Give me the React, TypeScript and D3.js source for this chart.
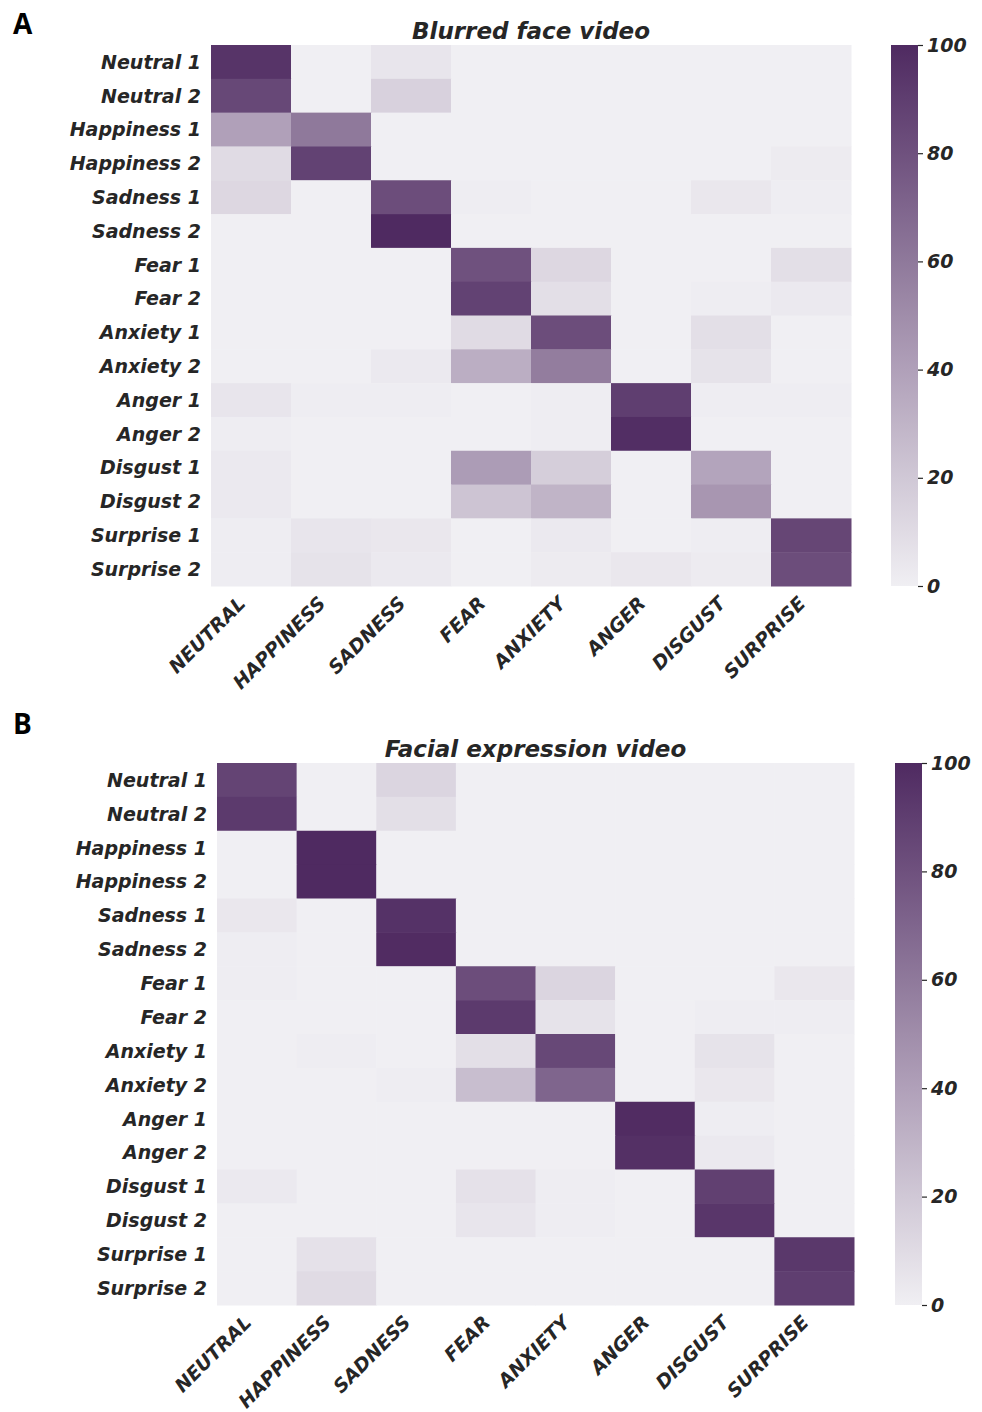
import React, { useEffect, useRef } from "react";
import * as d3 from "d3";

// categories
const rowLabels = [
  "Neutral 1", "Neutral 2", "Happiness 1", "Happiness 2", "Sadness 1", "Sadness 2",
  "Fear 1", "Fear 2", "Anxiety 1", "Anxiety 2", "Anger 1", "Anger 2",
  "Disgust 1", "Disgust 2", "Surprise 1", "Surprise 2",
];
const colLabels = ["NEUTRAL", "HAPPINESS", "SADNESS", "FEAR", "ANXIETY", "ANGER", "DISGUST", "SURPRISE"];
const colorTicks = [0, 20, 40, 60, 80, 100];

// panel A values (% of responses), rows x cols
const blurredValues = [
  [95, 0, 5, 0, 0, 0, 0, 0],
  [85, 0, 15, 0, 0, 0, 0, 0],
  [40, 60, 0, 0, 0, 0, 0, 0],
  [10, 88, 0, 0, 0, 0, 0, 2],
  [12, 0, 82, 1, 0, 0, 4, 1],
  [0, 0, 100, 0, 0, 0, 0, 0],
  [0, 0, 0, 80, 12, 0, 0, 8],
  [0, 0, 0, 88, 8, 0, 1, 3],
  [0, 0, 0, 10, 82, 0, 8, 0],
  [0, 0, 3, 33, 58, 0, 6, 0],
  [5, 1, 1, 0, 1, 90, 1, 1],
  [1, 0, 0, 0, 1, 98, 0, 0],
  [3, 0, 0, 42, 17, 0, 38, 0],
  [3, 0, 0, 22, 30, 0, 45, 0],
  [1, 5, 4, 0, 3, 0, 1, 86],
  [1, 6, 3, 0, 2, 4, 2, 82],
];

// panel B values
const expressionValues = [
  [87, 0, 13, 0, 0, 0, 0, 0],
  [92, 0, 8, 0, 0, 0, 0, 0],
  [0, 100, 0, 0, 0, 0, 0, 0],
  [0, 100, 0, 0, 0, 0, 0, 0],
  [4, 0, 96, 0, 0, 0, 0, 0],
  [1, 0, 99, 0, 0, 0, 0, 0],
  [1, 0, 0, 82, 13, 0, 0, 4],
  [0, 0, 0, 92, 6, 0, 1, 1],
  [0, 1, 0, 8, 85, 0, 6, 0],
  [0, 0, 1, 25, 70, 0, 4, 0],
  [0, 0, 0, 0, 0, 99, 1, 0],
  [0, 0, 0, 0, 0, 97, 3, 0],
  [3, 0, 0, 7, 1, 0, 89, 0],
  [0, 0, 0, 5, 1, 0, 94, 0],
  [0, 7, 0, 0, 0, 0, 0, 93],
  [0, 10, 0, 0, 0, 0, 0, 90],
];

const panels = [
  { letter: "A", letterY: 34, title: "Blurred face video", values: blurredValues, x0: 211, x1: 851, y0: 45, y1: 586, cbX: 891 },
  { letter: "B", letterY: 734, title: "Facial expression video", values: expressionValues, x0: 217, x1: 854, y0: 763, y1: 1305, cbX: 895 },
];

const FONT = "'DejaVu Sans', sans-serif";
const TXT = "#262626";

export default function App() {
  const ref = useRef<SVGSVGElement>(null);

  useEffect(() => {
    const svg = d3.select(ref.current);
    svg.selectAll("*").remove();

    const color = d3.scaleLinear<string>()
      .domain([0, 100])
      .range(["#f0eff3", "#4f2a61"])
      .interpolate(d3.interpolateRgb);

    const defs = svg.append("defs");
    const grad = defs.append("linearGradient")
      .attr("id", "cbgrad")
      .attr("x1", 0).attr("x2", 0).attr("y1", 1).attr("y2", 0);
    d3.range(0, 101, 10).forEach((v) => {
      grad.append("stop").attr("offset", `${v}%`).attr("stop-color", color(v));
    });

    panels.forEach((p) => {
      const g = svg.append("g");

      const x = d3.scaleBand().domain(colLabels).range([p.x0, p.x1]);
      const y = d3.scaleBand().domain(rowLabels).range([p.y0, p.y1]);

      // panel letter
      g.append("text")
        .attr("x", 13)
        .attr("y", p.letterY)
        .style("font-family", "'Open Sans', sans-serif")
        .style("font-weight", "bold")
        .style("font-size", "28px")
        .style("fill", "#000")
        .text(p.letter);

      // title
      g.append("text")
        .attr("x", (p.x0 + p.x1) / 2)
        .attr("y", p.y0 - 6)
        .attr("text-anchor", "middle")
        .style("font-family", FONT)
        .style("font-weight", "bold")
        .style("font-style", "italic")
        .style("font-size", "23px")
        .style("fill", TXT)
        .text(p.title);

      // cells
      const cells = p.values.flatMap((row, i) =>
        row.map((v, j) => ({ r: rowLabels[i], c: colLabels[j], v }))
      );
      g.selectAll("rect.cell")
        .data(cells)
        .join("rect")
        .attr("class", "cell")
        .attr("x", (d) => x(d.c)!)
        .attr("y", (d) => y(d.r)!)
        .attr("width", x.bandwidth() + 0.5)
        .attr("height", y.bandwidth() + 0.5)
        .attr("fill", (d) => color(d.v));

      // row labels
      g.selectAll("text.row")
        .data(rowLabels)
        .join("text")
        .attr("class", "row")
        .attr("x", p.x0 - 10)
        .attr("y", (d) => y(d)! + y.bandwidth() / 2)
        .attr("dy", "0.36em")
        .attr("text-anchor", "end")
        .style("font-family", FONT)
        .style("font-weight", "bold")
        .style("font-style", "italic")
        .style("font-size", "19px")
        .style("fill", TXT)
        .text((d) => d);

      // column labels, rotated 45deg, right-aligned under each column centre
      g.selectAll("text.col")
        .data(colLabels)
        .join("text")
        .attr("class", "col")
        .attr("transform", (d) => `translate(${x(d)! + x.bandwidth() / 2 - 14},${p.y1 + 9}) rotate(-45)`)
        .attr("text-anchor", "end")
        .attr("dy", "0.72em")
        .style("font-family", FONT)
        .style("font-weight", "bold")
        .style("font-style", "italic")
        .style("font-size", "19px")
        .style("fill", TXT)
        .text((d) => d);

      // colorbar
      const cbW = 27;
      const cy = d3.scaleLinear().domain([0, 100]).range([p.y1, p.y0]);
      g.append("rect")
        .attr("x", p.cbX)
        .attr("y", p.y0)
        .attr("width", cbW)
        .attr("height", p.y1 - p.y0)
        .attr("fill", "url(#cbgrad)");

      const cbAxis = g.append("g")
        .attr("transform", `translate(${p.cbX + cbW},0)`)
        .call(d3.axisRight(cy).tickValues(colorTicks).tickSize(5).tickPadding(4));
      cbAxis.select(".domain").remove();
      cbAxis.selectAll("line").attr("stroke", TXT).attr("stroke-width", 1.2);
      cbAxis.selectAll("text")
        .style("font-family", FONT)
        .style("font-weight", "bold")
        .style("font-style", "italic")
        .style("font-size", "19px")
        .style("fill", TXT);
    });
  }, []);

  return (
    <svg
      ref={ref}
      width={982}
      height={1412}
      style={{ position: "absolute", left: 0, top: 0, background: "#fff" }}
    />
  );
}
